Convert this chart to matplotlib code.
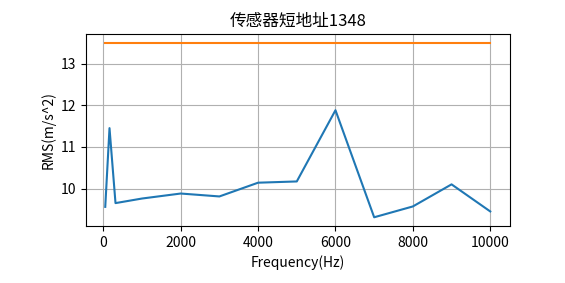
import matplotlib
matplotlib.use("Agg")
import matplotlib.pyplot as plt

plt.rcParams['font.family'] = ['Noto Sans CJK SC', 'DejaVu Sans']
plt.rcParams['axes.unicode_minus'] = False

freq = [50, 160, 315, 1000, 2000, 3000, 4000, 5000, 6000, 7000, 8000, 9000, 10000]
rms = [9.56, 11.45, 9.65, 9.76, 9.88, 9.81, 10.14, 10.17, 11.88, 9.31, 9.57, 10.10, 9.45]
limit = [13.5] * len(freq)

fig = plt.figure(figsize=(5.65, 2.83), dpi=100)
ax = fig.add_axes([86/565, 1 - 226/283, (509.5-86)/565, (226-34)/283])

ax.plot(freq, rms)
ax.plot(freq, limit)
ax.grid(True)
ax.set_title('传感器短地址1348')
ax.set_xlabel('Frequency(Hz)')
ax.set_ylabel('RMS(m/s^2)')

fig.savefig('out.png', dpi=100)
